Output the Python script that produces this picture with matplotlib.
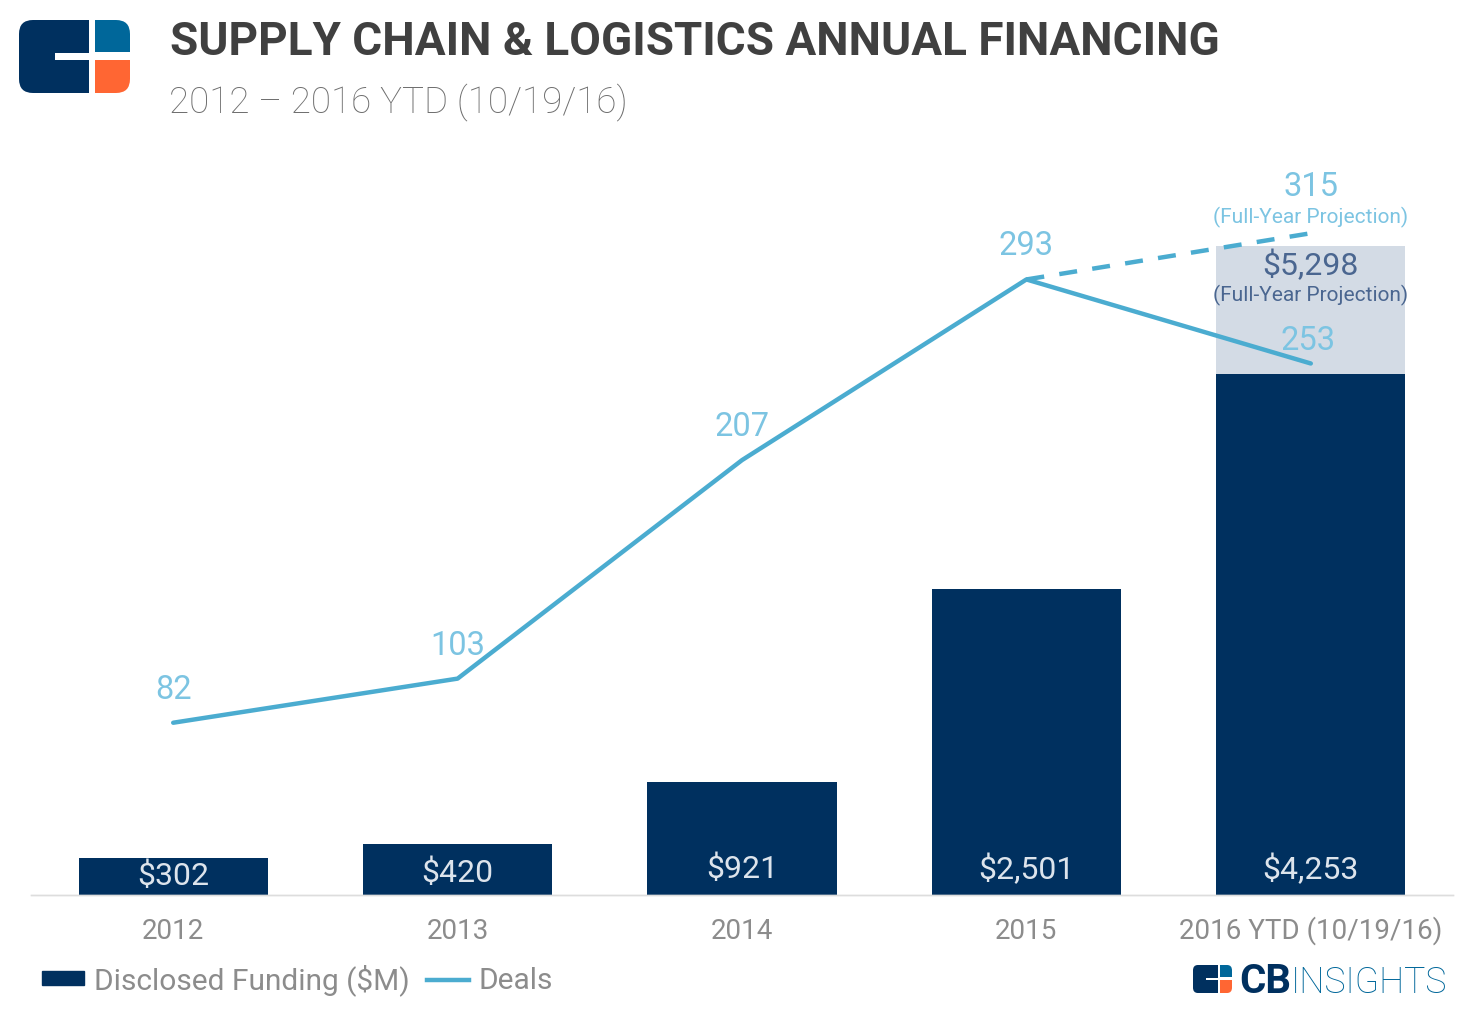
import matplotlib
matplotlib.use("Agg")
import matplotlib.pyplot as plt
from matplotlib.lines import Line2D
from matplotlib.patches import FancyBboxPatch, Patch, Rectangle

W, H = 1483, 1019

years = ["2012", "2013", "2014", "2015", "2016 YTD (10/19/16)"]
funding = [302, 420, 921, 2501, 4253]
funding_labels = ["$302", "$420", "$921", "$2,501", "$4,253"]
funding_projected = 5298
deals = [82, 103, 207, 293, 253]
deals_projected = 315

NAVY = "#00305F"
BLUE = "#4BACD0"
LIGHT_BLUE = "#7CC4E2"
PALE = "#D3DBE5"
GREY = "#8C8C8C"
DARK = "#404040"
LOGO_BLUE = "#00679A"
LOGO_ORANGE = "#FF6633"

plt.rcParams["font.family"] = ["Roboto", "DejaVu Sans"]


def fx(px):
    return px / W


def fy(py):
    return 1 - py / H


def draw_logo(fig, x0, y0, x1, y1):
    # the rounded block, cut in three by clipped rectangles
    ax = fig.add_axes([fx(x0), fy(y1), fx(x1 - x0), (y1 - y0) / H])
    ax.set_xlim(0, 111)
    ax.set_ylim(73, 0)
    ax.axis("off")
    clip = FancyBboxPatch((0, 0), 111, 73, boxstyle="round,pad=0,rounding_size=14",
                          fc="none", ec="none", mutation_aspect=1)
    ax.add_patch(clip)
    pieces = [
        (0, 0, 70, 73, NAVY),
        (36, 33, 34, 7, "white"),
        (76, 0, 35, 32, LOGO_BLUE),
        (76, 40, 35, 33, LOGO_ORANGE),
    ]
    for x, y, w, h, c in pieces:
        r = Rectangle((x, y), w, h, fc=c, ec="none")
        ax.add_patch(r)
        r.set_clip_path(clip)


fig = plt.figure(figsize=(W / 100, H / 100), dpi=100)

# plot area: baseline at y=895, 750 px tall
ax = fig.add_axes([fx(31), fy(895), fx(1453 - 31), 750 / H])
ax_deals = ax.twinx()
ax.set_xlim(-0.5, 4.5)
ax.set_ylim(0, 6122)
ax_deals.set_ylim(0, 357)

x = list(range(len(years)))
ax.bar(x[-1], funding_projected - funding[-1], bottom=funding[-1], width=0.665, color=PALE)
ax.bar(x, funding, width=0.665, color=NAVY)

ax_deals.plot(x[3:], [deals[3], deals_projected], color=BLUE, lw=3.2, ls=(0, (4.05, 3.45)))
ax_deals.plot(x, deals, color=BLUE, lw=3.2, solid_capstyle="round")

ax.set_xticks(x, years)
ax.tick_params(axis="x", length=0, pad=31.5, labelsize=20, labelcolor=GREY)
for t in ax.get_xticklabels():
    t.set_va("baseline")
ax.set_yticks([])
ax_deals.set_yticks([])
for a in (ax, ax_deals):
    for side in ("top", "left", "right"):
        a.spines[side].set_visible(False)
    a.spines["bottom"].set_color("#DDDDDD")
    a.spines["bottom"].set_linewidth(1)


def label(a, xv, yv, text, dy_px, size, color):
    # dy_px is the offset from the data point in pixels, up is positive
    a.annotate(text, (xv, yv), xytext=(0, dy_px * 0.72), textcoords="offset points",
               ha="center", va="center", fontsize=size, color=color, clip_on=False)


# funding labels sit at the foot of each bar
funding_offsets = [19, 22, 26, 26, 26]
for i in x:
    label(ax, x[i], 0, funding_labels[i], funding_offsets[i], 23, "#DDE4EC")

deal_offsets = [33, 33, 33, 33, 22]
for i in x:
    xpos = x[i] - (0.01 if i == 4 else 0)
    label(ax_deals, xpos, deals[i], str(deals[i]), deal_offsets[i], 23.5, LIGHT_BLUE)

label(ax_deals, x[-1], deals_projected, str(deals_projected), 46, 23.5, LIGHT_BLUE)
label(ax_deals, x[-1], deals_projected, "(Full-Year Projection)", 16, 15, LIGHT_BLUE)
label(ax, x[-1], funding_projected, "$5,298", -19, 23, "#4A6690")
label(ax, x[-1], funding_projected, "(Full-Year Projection)", -50, 15, "#4A6690")

# header
fig.text(fx(170), fy(55), "SUPPLY CHAIN & LOGISTICS ANNUAL FINANCING", fontsize=33,
         fontweight="bold", color=DARK, va="baseline")
fig.text(fx(169), fy(112), "2012 \u2013 2016 YTD (10/19/16)", fontsize=26.5,
         fontweight="light", color="#6E6E6E", va="baseline")
draw_logo(fig, 19, 20, 130, 93)

# legend
handles = [Patch(color=NAVY), Line2D([0], [0], color=BLUE, lw=3.2)]
fig.legend(handles, ["Disclosed Funding ($M)", "Deals"], ncol=2, frameon=False,
           loc="center left", bbox_to_anchor=(fx(42), fy(980)), labelcolor=GREY,
           handlelength=1.4, handleheight=0.33, handletextpad=0.33, columnspacing=0.6,
           borderpad=0, borderaxespad=0, prop={"size": 21.5})

# footer logo
draw_logo(fig, 1193, 965, 1232, 993)
fig.text(fx(1239), fy(993), "CB", fontsize=29, fontweight="bold", color=NAVY, va="baseline")
fig.text(fx(1291), fy(993), "INSIGHTS", fontsize=25.7, fontweight="light", color=LOGO_BLUE, va="baseline")

fig.savefig("out.png", dpi=100)
plt.close(fig)
